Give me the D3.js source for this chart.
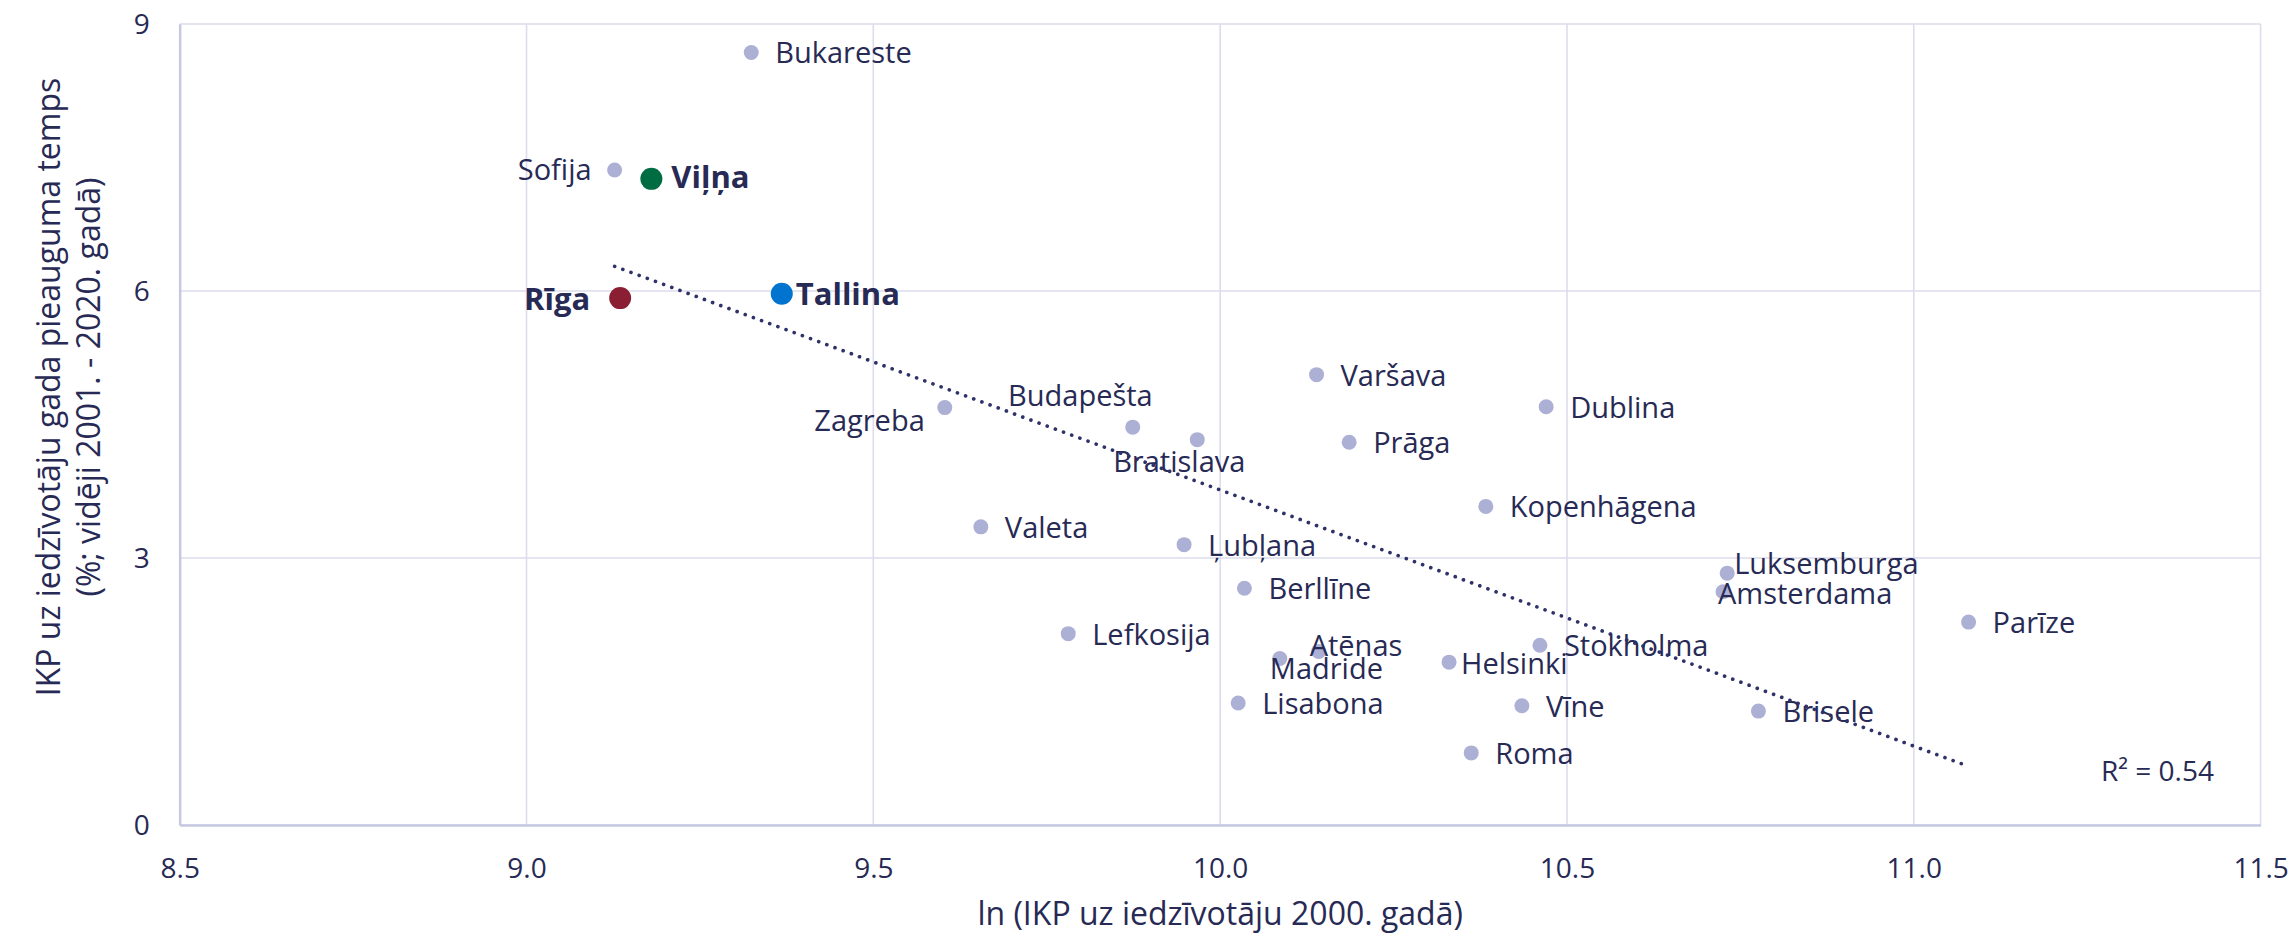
<!DOCTYPE html>
<html>
<head>
<meta charset="utf-8">
<script src="https://cdn.jsdelivr.net/npm/d3@7/dist/d3.min.js"></script>
<style>
  html, body { margin: 0; padding: 0; background: #ffffff; }
  svg { display: block; }
  text { font-family: "Open Sans", "Noto Sans", sans-serif; fill: #272a54; }
</style>
</head>
<body>
<svg id="chart" width="2295" height="934"></svg>
<script>
// ---------- DATA ----------
const cities = ["Bukareste","Sofija","Viļņa","Rīga","Tallina","Zagreba","Budapešta","Bratislava",
  "Varšava","Dublina","Prāga","Kopenhāgena","Valeta","Ļubļana","Berllīne","Lefkosija","Madride",
  "Atēnas","Helsinki","Stokholma","Lisabona","Vīne","Roma","Luksemburga","Amsterdama","Brisele","Parīze"];
const lnGdp2000 = [9.324,9.127,9.180,9.135,9.368,9.603,9.874,9.967,
  10.139,10.470,10.186,10.383,9.655,9.948,10.035,9.781,10.086,
  10.142,10.330,10.461,10.026,10.435,10.362,10.731,10.725,10.776,11.079];
const growthRate = [8.68,7.36,7.26,5.92,5.97,4.69,4.47,4.33,
  5.06,4.70,4.30,3.58,3.35,3.15,2.66,2.15,1.87,
  1.95,1.83,2.02,1.37,1.34,0.81,2.83,2.62,1.28,2.28];
const xTicks = [8.5, 9.0, 9.5, 10.0, 10.5, 11.0, 11.5];
const yTicks = [0, 3, 6, 9];
const xTitle = "ln (IKP uz iedzīvotāju 2000. gadā)";
const yTitleLines = ["IKP uz iedzīvotāju gada pieauguma temps", "(%; vidēji 2001. - 2020. gadā)"];

// ---------- STYLE / LAYOUT ----------
const highlight = { "Rīga": "#8a1f33", "Viļņa": "#006c42", "Tallina": "#0074cf" };
const baseColor = "#adb0d5";
// [anchor, dx, baseline dy]
const labelLayout = {
  "Sofija": ["end", -23, 10],
  "Viļņa": ["start", 20, 9],
  "Rīga": ["end", -30, 12],
  "Tallina": ["start", 14, 11],
  "Zagreba": ["end", -20, 23],
  "Budapešta": ["end", 20, -21],
  "Bratislava": ["middle", -18, 32],
  "Madride": ["start", -10, 20],
  "Atēnas": ["start", -9, 5],
  "Helsinki": ["start", 12, 12],
  "Luksemburga": ["start", 7, 1],
  "Amsterdama": ["start", -5, 12]
};
const defaultLayout = ["start", 24, 11];

const svg = d3.select("#chart");
const x = d3.scaleLinear().domain([8.5, 11.5]).range([179.7, 2260.6]);
const y = d3.scaleLinear().domain([0, 9]).range([825, 24]);

const gridColor = "#dcdcee";
const axisColor = "#c6c8e2";

// gridlines
svg.append("g").selectAll("line").data(xTicks).join("line")
  .attr("x1", d => x(d)).attr("x2", d => x(d))
  .attr("y1", y(9)).attr("y2", y(0))
  .attr("stroke", gridColor).attr("stroke-width", 1.6);
svg.append("g").selectAll("line").data(yTicks).join("line")
  .attr("x1", x(8.5)).attr("x2", x(11.5))
  .attr("y1", d => y(d)).attr("y2", d => y(d))
  .attr("stroke", gridColor).attr("stroke-width", 1.6);

// axes (D3 axes, styled)
const xAxis = svg.append("g").attr("transform", `translate(0,${y(0)})`)
  .call(d3.axisBottom(x).tickValues(xTicks).tickFormat(d3.format(".1f")).tickSize(0).tickPadding(0));
xAxis.select(".domain").attr("stroke", axisColor).attr("stroke-width", 2.4);
xAxis.selectAll("text").attr("font-size", 28).attr("fill", "#272a54")
  .attr("font-family", "Open Sans").attr("dy", null).attr("y", 53);

const yAxis = svg.append("g").attr("transform", `translate(${x(8.5)},0)`)
  .call(d3.axisLeft(y).tickValues(yTicks).tickFormat(d3.format("d")).tickSize(0).tickPadding(0));
yAxis.select(".domain").attr("stroke", axisColor).attr("stroke-width", 2.4);
yAxis.selectAll("text").attr("font-size", 28).attr("fill", "#272a54")
  .attr("font-family", "Open Sans").attr("x", -30).attr("dy", "0.35em");

// axis titles
svg.append("text").attr("x", (x(8.5) + x(11.5)) / 2).attr("y", 925)
  .attr("text-anchor", "middle").attr("font-size", 32).text(xTitle);
yTitleLines.forEach((t, i) => {
  svg.append("text")
    .attr("transform", `translate(${60 + i * 40},387) rotate(-90)`)
    .attr("text-anchor", "middle").attr("font-size", 32).text(t);
});

// data points
const pts = cities.map((c, i) => ({ name: c, x: lnGdp2000[i], y: growthRate[i] }));

svg.append("g").selectAll("circle").data(pts).join("circle")
  .attr("cx", d => x(d.x)).attr("cy", d => y(d.y))
  .attr("r", d => highlight[d.name] ? 11 : 7.5)
  .attr("fill", d => highlight[d.name] || baseColor);

svg.append("g").selectAll("text").data(pts).join("text")
  .each(function (d) {
    const L = labelLayout[d.name] || defaultLayout;
    d3.select(this)
      .attr("x", x(d.x) + L[1]).attr("y", y(d.y) + L[2])
      .attr("text-anchor", L[0]);
  })
  .attr("font-size", d => highlight[d.name] ? 31 : 29)
  .attr("font-weight", d => highlight[d.name] ? 700 : 400)
  .text(d => d.name);

// linear trend (least squares) computed from data
const n = pts.length;
const mx = d3.mean(pts, d => d.x), my = d3.mean(pts, d => d.y);
const sxy = d3.sum(pts, d => (d.x - mx) * (d.y - my));
const sxx = d3.sum(pts, d => (d.x - mx) ** 2);
const syy = d3.sum(pts, d => (d.y - my) ** 2);
const slope = sxy / sxx, intercept = my - slope * mx;
const r2 = (sxy * sxy) / (sxx * syy);
const [xmin, xmax] = d3.extent(pts, d => d.x);
const trend = [xmin, xmax].map(v => [v, intercept + slope * v]);

svg.append("path")
  .attr("d", d3.line().x(d => x(d[0])).y(d => y(d[1]))(trend))
  .attr("fill", "none").attr("stroke", "#2f3268").attr("stroke-width", 3.6)
  .attr("stroke-linecap", "round").attr("stroke-dasharray", "0.1 8.6");

svg.append("text").attr("x", 2101).attr("y", 781).attr("font-size", 28)
  .text("R² = " + r2.toFixed(2));
</script>
</body>
</html>
